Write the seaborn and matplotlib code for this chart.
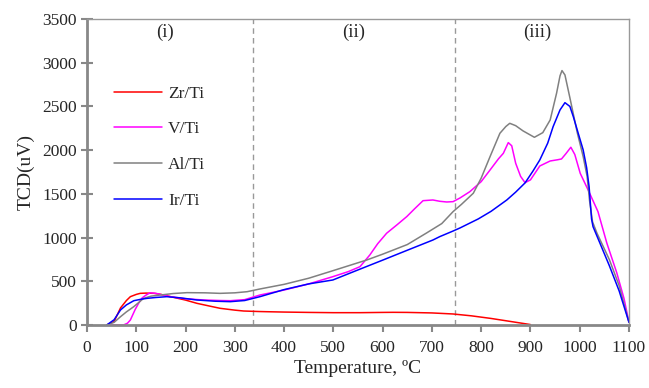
import numpy as np
import pandas as pd
import matplotlib
matplotlib.use("Agg")
import matplotlib.pyplot as plt
import seaborn as sns

# ---- data ----
zr_x = [40, 55, 68, 80, 88, 100, 108, 120, 136, 150, 176, 200, 223, 250, 270, 300, 318, 350, 365, 400, 450, 500, 554, 600, 621, 650, 700, 743, 780, 820, 860, 900]
zr_y = [0, 40, 195, 280, 324, 350, 362, 365, 362, 350, 316, 285, 248, 215, 191, 170, 160, 154, 152, 148, 144, 141, 141, 144, 145, 144, 138, 126, 105, 75, 40, 5]

v_x = [40, 74, 82, 88, 98, 105, 112, 120, 128, 140, 169, 200, 237, 270, 291, 320, 351, 400, 450, 499, 530, 554, 574, 590, 608, 630, 649, 665, 682, 702, 716, 730, 743, 757, 777, 800, 818, 835, 845, 855, 862, 870, 880, 889, 900, 919, 940, 955, 963, 972, 982, 990, 1001, 1017, 1037, 1055, 1075, 1090, 1100]
v_y = [0, 0, 20, 57, 180, 251, 310, 343, 368, 362, 324, 300, 286, 280, 278, 290, 343, 400, 470, 553, 610, 667, 801, 930, 1049, 1150, 1240, 1330, 1422, 1430, 1415, 1407, 1411, 1453, 1525, 1640, 1773, 1900, 1964, 2086, 2050, 1850, 1700, 1628, 1660, 1819, 1876, 1890, 1899, 1960, 2033, 1950, 1735, 1545, 1297, 937, 600, 300, 30]

al_x = [40, 55, 68, 80, 95, 115, 130, 149, 175, 203, 240, 270, 300, 325, 351, 400, 450, 499, 568, 600, 650, 689, 720, 743, 760, 784, 800, 818, 838, 850, 858, 870, 885, 908, 925, 940, 953, 960, 964, 970, 980, 995, 1007, 1015, 1020, 1026, 1035, 1060, 1080, 1100]
al_y = [0, 30, 95, 150, 210, 305, 330, 343, 360, 370, 368, 362, 368, 381, 412, 465, 535, 621, 744, 810, 920, 1052, 1160, 1297, 1380, 1507, 1680, 1926, 2193, 2270, 2307, 2280, 2220, 2147, 2200, 2345, 2651, 2850, 2910, 2860, 2600, 2200, 1926, 1700, 1420, 1180, 1050, 750, 450, 30]

ir_x = [40, 55, 68, 80, 95, 110, 122, 140, 162, 190, 223, 260, 291, 320, 351, 400, 450, 499, 550, 601, 650, 702, 716, 743, 757, 794, 820, 852, 870, 889, 905, 919, 935, 946, 960, 970, 980, 987, 995, 1007, 1014, 1019, 1024, 1027, 1040, 1060, 1080, 1100]
ir_y = [0, 60, 172, 230, 278, 295, 305, 315, 324, 310, 286, 272, 267, 280, 324, 405, 470, 515, 630, 744, 855, 972, 1011, 1075, 1110, 1213, 1300, 1430, 1520, 1625, 1760, 1888, 2080, 2269, 2460, 2543, 2500, 2383, 2230, 2002, 1800, 1583, 1213, 1125, 950, 680, 390, 30]

series_names = ["Zr/Ti", "V/Ti", "Al/Ti", "Ir/Ti"]
colors = {"Zr/Ti": "#ff0000", "V/Ti": "#ff00ff", "Al/Ti": "#808080", "Ir/Ti": "#0000ff"}

x_ticks = [0, 100, 200, 300, 400, 500, 600, 700, 800, 900, 1000, 1100]
y_ticks = [0, 500, 1000, 1500, 2000, 2500, 3000, 3500]
region_bounds = [337, 747]
region_labels = ["(i)", "(ii)", "(iii)"]
region_label_x = [158, 542, 913]

frames = []
for name, xs, ys in zip(series_names, [zr_x, v_x, al_x, ir_x], [zr_y, v_y, al_y, ir_y]):
    frames.append(pd.DataFrame({"Temperature": xs, "TCD": ys, "Sample": name}))
df = pd.concat(frames, ignore_index=True)

sns.set_style("white")
plt.rcParams["font.family"] = ["Liberation Serif", "DejaVu Serif"]

fig = plt.figure(figsize=(6.49, 3.88), dpi=100)
ax = fig.add_axes([87 / 649, 1 - 325 / 388, 542 / 649, 306 / 388])

sns.lineplot(data=df, x="Temperature", y="TCD", hue="Sample", hue_order=series_names,
             palette=colors, sort=False, estimator=None, linewidth=1.1, ax=ax)

for b in region_bounds:
    ax.axvline(b, color="#999999", lw=1.0, ls=(0, (4, 3)), zorder=0)
for lbl, lx in zip(region_labels, region_label_x):
    ax.text(lx, 3350, lbl, ha="center", va="center", fontsize=13.5)

ax.set_xlim(0, 1100)
ax.set_ylim(0, 3500)
ax.set_xticks(x_ticks)
ax.set_yticks(y_ticks)
ax.tick_params(axis="both", which="both", width=1.5, color="#888888",
               labelsize=12.5, left=True, bottom=True)
ax.tick_params(axis="x", direction="out", length=5, pad=6)
ax.tick_params(axis="y", direction="inout", length=9, pad=3)
for side in ["left", "bottom"]:
    ax.spines[side].set_color("#888888")
    ax.spines[side].set_linewidth(2)
for side in ["top", "right"]:
    ax.spines[side].set_color("#999999")
    ax.spines[side].set_linewidth(1)

ax.set_xlabel("Temperature, \u00baC", fontsize=14, labelpad=3)
ax.set_ylabel("TCD(uV)", fontsize=14, labelpad=5)

leg = ax.legend(loc="upper left", bbox_to_anchor=(0.050, 0.782), frameon=False,
                fontsize=12.5, handlelength=2.75, handletextpad=0.35,
                labelspacing=1.12, borderpad=0, borderaxespad=0)
for line in leg.get_lines():
    line.set_linewidth(1.1)

fig.savefig("out.png", dpi=100)
